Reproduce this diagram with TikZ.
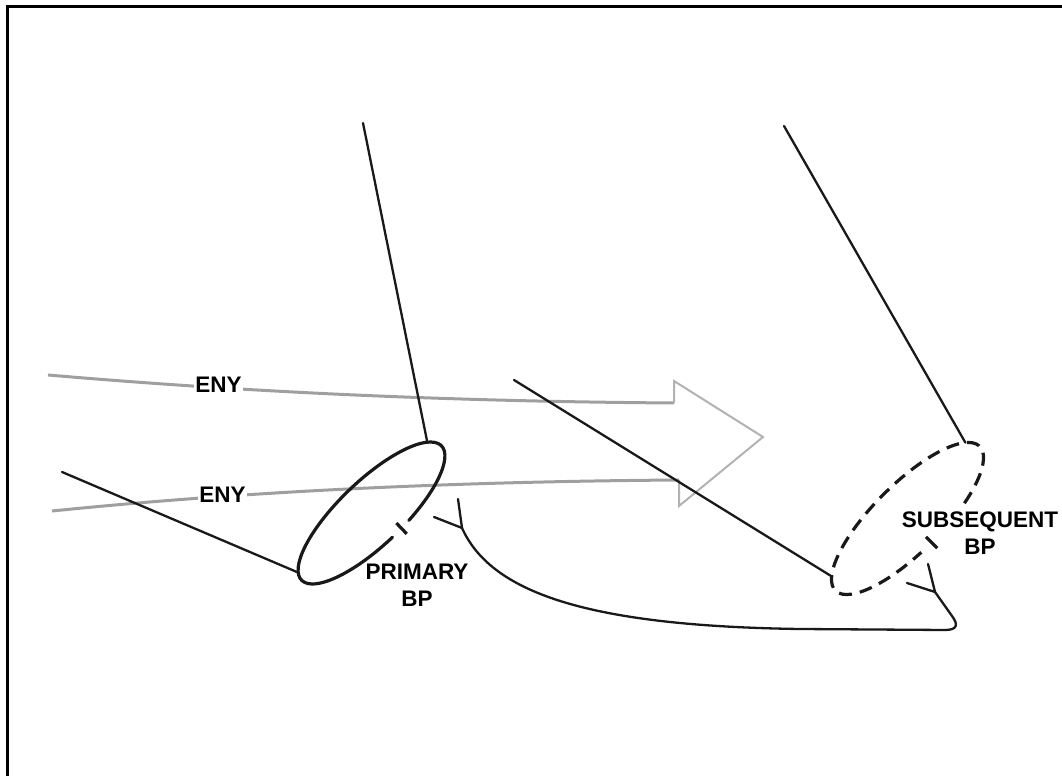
\documentclass[tikz,border=0pt]{standalone}
\usepackage{fontspec}
\setmainfont{Liberation Sans}
\begin{document}
\begin{tikzpicture}[x=1pt,y=1pt,
  thinline/.style={black!90,line width=2.3pt,line cap=round,line join=round},
  bpline/.style={black!90,line width=3.2pt,line cap=round},
  bpdash/.style={black!90,line width=3.2pt,dash pattern=on 13pt off 8pt},
  enyline/.style={gray!75,line width=3pt},
  headline/.style={gray!60,line width=2pt,line join=miter},
  lbl/.style={font=\fontsize{22.5}{27}\selectfont\bfseries,inner sep=0pt,align=center},
  enylbl/.style={font=\fontsize{22.5}{27}\selectfont\bfseries,inner sep=1.5pt,fill=white}]
\useasboundingbox (0,0) rectangle (1062,776);
% frame (top and left borders)
\draw[line width=3pt,line join=miter] (7.5,0) -- (7.5,769.5) -- (1062,769.5);

% gray ENY lines and hollow arrow
\coordinate (e1s) at (48,401);
\coordinate (e1e) at (674,373);
\coordinate (e2s) at (52,265);
\coordinate (e2e) at (679,296);
\coordinate (h1) at (674,395);
\coordinate (tip) at (763,339);
\coordinate (h2) at (679,270);
\draw[enyline] (e1s) .. controls (200,388) and (400,375) .. (e1e);
\draw[enyline] (e2s) .. controls (200,280) and (400,294) .. (e2e);
\draw[headline] (e1e) -- (h1) -- (tip) -- (h2) -- (e2e);
\node[enylbl] (eny1) at (218.5,391) {ENY};
\node[enylbl] (eny2) at (222.5,281) {ENY};

% primary BP
\begin{scope}[shift={(371.5,263)},rotate=43.8]
  \draw[bpline] (283:97 and 32) arc[start angle=283,end angle=629,x radius=97,y radius=32];
  \coordinate (ptop) at (23:97 and 32);
  \coordinate (pleft) at (166:97 and 32);
  \coordinate (pta) at (11,-39.5);
  \coordinate (ptb) at (11,-24.5);
\end{scope}
\draw[bpline,line cap=butt] (pta) -- (ptb);

% subsequent BP
\begin{scope}[shift={(907.5,257.5)},rotate=45]
  \draw[bpdash] (-60:102 and 34) arc[start angle=-60,end angle=262,x radius=102,y radius=34];
  \coordinate (stop) at (22:102 and 34);
  \coordinate (sleft) at (158:102 and 34);
  \coordinate (sta) at (0,-42);
  \coordinate (stb) at (0,-26);
\end{scope}
\draw[bpline,line cap=butt] (sta) -- (stb);

% black lines
\coordinate (l1) at (363,653);
\coordinate (l2) at (62,304);
\coordinate (l3) at (514,396);
\coordinate (l4) at (784,650);
\draw[thinline] (l1) -- (ptop);
\draw[thinline] (l2) -- (pleft);
\draw[thinline] (l3) -- (sleft);
\draw[thinline] (l4) -- (stop);

% Y connectors and long curve
\coordinate (j1) at (462,248);
\coordinate (j1a) at (458,277);
\coordinate (j1b) at (434,259);
\coordinate (j2) at (935,184);
\coordinate (j2a) at (928,212);
\coordinate (j2b) at (907,193);
\draw[thinline] (j1a) -- (j1) -- (j1b);
\draw[thinline] (j2a) -- (j2) -- (j2b);
\draw[thinline] (j1) .. controls (490,186) and (580,150) .. (800,147) -- (945,146)
  .. controls (958,146) and (958,152) .. (952,160) -- (j2);

% labels
\node[lbl] (primary) at (417,190.5) {PRIMARY\\BP};
\node[lbl] (subsequent) at (980,242.5) {SUBSEQUENT\\BP};
\end{tikzpicture}
\end{document}
